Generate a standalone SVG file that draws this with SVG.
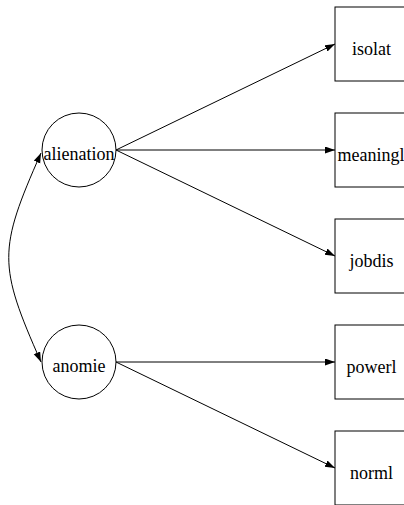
<svg xmlns="http://www.w3.org/2000/svg" width="404" height="505" viewBox="0 0 404 505">
<style>
.node ellipse, .node rect { fill: #fff; stroke: #000; stroke-width: 1; }
.node text { font-family: 'Liberation Serif', 'DejaVu Serif', serif; font-size: 18px; fill: #000; text-anchor: middle; }
.edges path { fill: none; stroke: #000; stroke-width: 1; }
</style>
<defs>
<marker id="ah" markerUnits="userSpaceOnUse" markerWidth="10" markerHeight="8" refX="10" refY="3.5" orient="auto-start-reverse">
<path d="M0,0 L10,3.5 L0,7 z" fill="#000"/>
</marker>
</defs>
<rect width="404" height="505" fill="#fff"/>
<g class="edges">
<path d="M116,150 L335,44" marker-end="url(#ah)"/>
<path d="M116,150 L335,150" marker-end="url(#ah)"/>
<path d="M116,150 L335,256" marker-end="url(#ah)"/>
<path d="M116,362 L335,362" marker-end="url(#ah)"/>
<path d="M116,362 L335,468" marker-end="url(#ah)"/>
<path d="M41,153 C-2,250 -2,265 41,362" marker-start="url(#ah)" marker-end="url(#ah)"/>
</g>
<g id="alienation" class="node"><ellipse cx="79" cy="150" rx="37" ry="37"/><text x="79" y="160" font-family="Liberation Serif, serif">alienation</text></g>
<g id="anomie" class="node"><ellipse cx="79" cy="362" rx="37" ry="37"/><text x="79" y="372" font-family="Liberation Serif, serif">anomie</text></g>
<g id="isolat" class="node"><rect x="335" y="7" width="74" height="74"/><text x="371.5" y="55" font-family="Liberation Serif, serif">isolat</text></g>
<g id="meaningl" class="node"><rect x="335" y="113" width="74" height="74"/><text x="371" y="161" font-family="Liberation Serif, serif">meaningl</text></g>
<g id="jobdis" class="node"><rect x="335" y="219" width="74" height="74"/><text x="371.5" y="267" font-family="Liberation Serif, serif">jobdis</text></g>
<g id="powerl" class="node"><rect x="335" y="325" width="74" height="74"/><text x="371.5" y="373" font-family="Liberation Serif, serif">powerl</text></g>
<g id="norml" class="node"><rect x="335" y="431" width="74" height="74"/><text x="371.5" y="479" font-family="Liberation Serif, serif">norml</text></g>
</svg>
